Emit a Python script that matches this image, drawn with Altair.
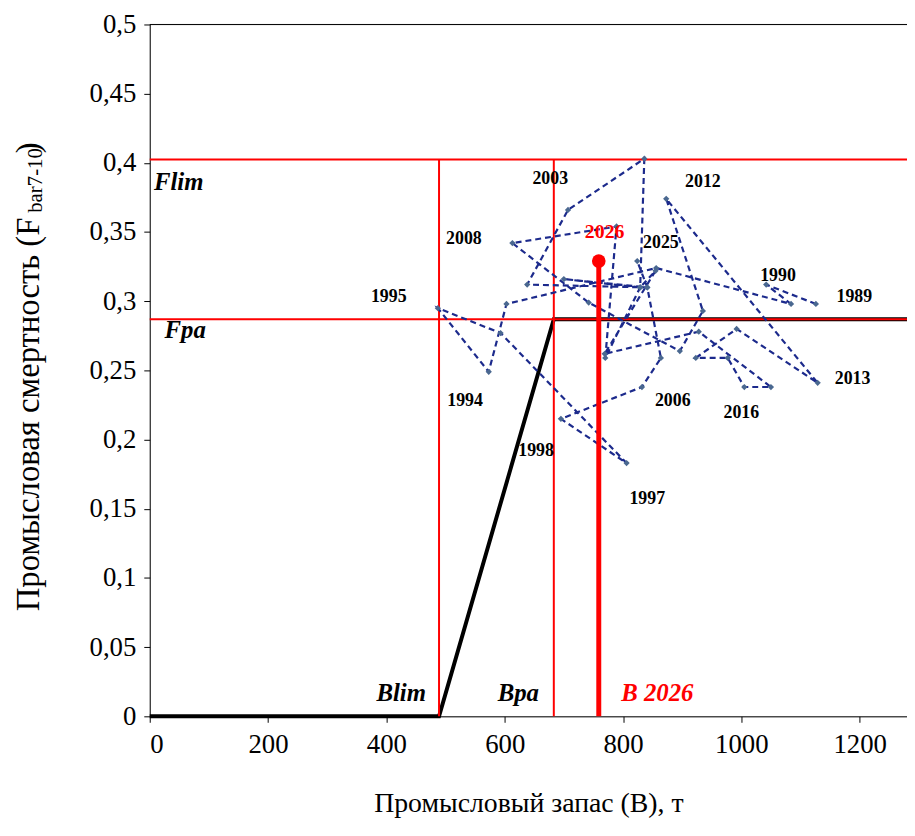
import altair as alt
import pandas as pd

# ---- data ----
years = list(range(1989, 2026))
biomass = [1126, 1042, 1084, 856, 603, 573, 487, 593, 806, 695, 832, 864, 841, 638, 707,
           836, 829, 770, 789, 613, 742, 896, 935, 873, 1129, 992, 923, 977, 1005, 1050,
           928, 769, 855, 829, 700, 841, 824]
fmort = [0.298, 0.312, 0.298, 0.324, 0.298, 0.249, 0.295, 0.277, 0.183, 0.215, 0.238,
         0.259, 0.310, 0.312, 0.366, 0.403, 0.310, 0.259, 0.354, 0.342, 0.299, 0.264,
         0.293, 0.374, 0.241, 0.280, 0.259, 0.259, 0.238, 0.238, 0.278, 0.262, 0.322,
         0.310, 0.316, 0.310, 0.329]

year_labels = ["1989", "1990", "2012", "2003", "2008", "2025", "1995", "1994", "1998",
               "1997", "2006", "2016", "2013"]
year_label_x = [1191, 1062, 935, 677, 531, 864, 404, 533, 653, 841, 884, 1000, 1188]
year_label_y = [0.303, 0.318, 0.386, 0.388, 0.345, 0.342, 0.303, 0.228, 0.192, 0.157,
                0.228, 0.219, 0.244]

Blim, Bpa, Flim, Fpa = 489, 683, 0.4025, 0.287
B2026, F2026 = 759, 0.329
XMAX = 1280

hcr_x = [0, Blim, Bpa, XMAX]
hcr_y = [0, 0, Fpa, Fpa]

ref_names = ["Flim", "Fpa", "Blim", "Bpa"]
ref_x = [49, 60, 425, 623]
ref_y = [0.386, 0.279, 0.017, 0.017]

x_ticks = [0, 200, 400, 600, 800, 1000, 1200]
y_ticks = [0, 0.05, 0.1, 0.15, 0.2, 0.25, 0.3, 0.35, 0.4, 0.45, 0.5]

FONT = "Liberation Serif"
RED = "#FF0000"

xs = alt.Scale(domain=[0, XMAX], nice=False, zero=False)
ys = alt.Scale(domain=[0, 0.5], nice=False, zero=False)

traj = pd.DataFrame({"year": years, "B": biomass, "F": fmort})
hcr = pd.DataFrame({"B": hcr_x, "F": hcr_y, "o": list(range(len(hcr_x)))})
hlines = pd.DataFrame({"x": [0, 0], "x2": [XMAX, XMAX], "y": [Flim, Fpa]})
vlines = pd.DataFrame({"x": [Blim, Bpa], "y": [0, 0], "y2": [Flim, Flim]})
cur = pd.DataFrame({"B": [B2026], "F": [F2026], "F0": [0]})
ylab = pd.DataFrame({"t": year_labels, "x": year_label_x, "y": year_label_y})
rlab = pd.DataFrame({"t": ref_names, "x": ref_x, "y": ref_y})
curlab1 = pd.DataFrame({"t": ["2026"], "x": [769], "y": [0.350]})
curlab2 = pd.DataFrame({"t": ["B 2026"], "x": [858], "y": [0.017]})
top = pd.DataFrame({"x": [0], "x2": [XMAX], "y": [0.5]})

base_x = alt.X("B:Q", scale=xs, axis=alt.Axis(
    values=x_ticks, format="d", title="Промысловый запас (B), т", grid=False,
    labelFont=FONT, labelFontSize=27, labelColor="black", labelPadding=9,
    titleFont=FONT, titleFontSize=28, titleFontWeight="normal", titleColor="black",
    titlePadding=33, tickColor="black", domainColor="black", tickSize=6))
base_y = alt.Y("F:Q", scale=ys, axis=alt.Axis(
    values=y_ticks, title=None, grid=False,
    labelExpr="replace(toString(datum.value), '.', ',')",
    labelFont=FONT, labelFontSize=27, labelColor="black", labelPadding=8,
    tickColor="black", domainColor="black", tickSize=6))

hcr_line = alt.Chart(hcr).mark_line(color="black", strokeWidth=4).encode(
    x=base_x, y=base_y, order="o:Q")

h_rules = alt.Chart(hlines).mark_rule(color=RED, strokeWidth=2).encode(
    x=alt.X("x:Q", scale=xs), x2="x2:Q", y=alt.Y("y:Q", scale=ys))
v_rules = alt.Chart(vlines).mark_rule(color=RED, strokeWidth=2).encode(
    x=alt.X("x:Q", scale=xs), y=alt.Y("y:Q", scale=ys), y2="y2:Q")
top_rule = alt.Chart(top).mark_rule(color="black", strokeWidth=1).encode(
    x=alt.X("x:Q", scale=xs), x2="x2:Q", y=alt.Y("y:Q", scale=ys))

traj_line = alt.Chart(traj).mark_line(
    color="#1C2A8C", strokeWidth=2.2, strokeDash=[6, 4]).encode(
    x=alt.X("B:Q", scale=xs), y=alt.Y("F:Q", scale=ys), order="year:Q")
traj_pts = alt.Chart(traj).mark_point(
    shape="diamond", filled=True, size=40, color="#4A6890", opacity=1).encode(
    x=alt.X("B:Q", scale=xs), y=alt.Y("F:Q", scale=ys))

cur_rule = alt.Chart(cur).mark_rule(color=RED, strokeWidth=5).encode(
    x=alt.X("B:Q", scale=xs), y=alt.Y("F0:Q", scale=ys), y2="F:Q")
cur_pt = alt.Chart(cur).mark_circle(color=RED, size=190, opacity=1).encode(
    x=alt.X("B:Q", scale=xs), y=alt.Y("F:Q", scale=ys))

year_text = alt.Chart(ylab).mark_text(
    font=FONT, fontSize=18, fontWeight="bold", color="black").encode(
    x=alt.X("x:Q", scale=xs), y=alt.Y("y:Q", scale=ys), text="t:N")
ref_text = alt.Chart(rlab).mark_text(
    font=FONT, fontSize=25, fontWeight="bold", fontStyle="italic", color="black").encode(
    x=alt.X("x:Q", scale=xs), y=alt.Y("y:Q", scale=ys), text="t:N")
cur_text1 = alt.Chart(curlab1).mark_text(
    font=FONT, fontSize=20, fontWeight="bold", color=RED).encode(
    x=alt.X("x:Q", scale=xs), y=alt.Y("y:Q", scale=ys), text="t:N")
cur_text2 = alt.Chart(curlab2).mark_text(
    font=FONT, fontSize=25, fontWeight="bold", fontStyle="italic", color=RED).encode(
    x=alt.X("x:Q", scale=xs), y=alt.Y("y:Q", scale=ys), text="t:N")

# y-axis title with subscript
ytitle_df = pd.DataFrame({"t": ["Промысловая смертность (F", "bar7-10", ")"],
                          "px": [-122, -115, -122],
                          "py": [592, 190, 130],
                          "fs": [33, 21, 33]})
ytitle = alt.Chart(ytitle_df).mark_text(
    font=FONT, angle=270, align="left", baseline="middle", color="black").encode(
    x=alt.X("px:Q", scale=None), y=alt.Y("py:Q", scale=None), text="t:N",
    size=alt.Size("fs:Q", scale=None, legend=None))

chart = alt.layer(
    hcr_line, h_rules, v_rules, top_rule, traj_line, traj_pts,
    cur_rule, cur_pt, year_text, ref_text, cur_text1, cur_text2, ytitle
).properties(
    width=764, height=698,
    autosize=alt.AutoSizeParams(type="none"),
    padding={"left": 143, "top": 13, "right": 0, "bottom": 105},
).configure_view(stroke=None).configure(font=FONT).configure_axis(
    labelFont=FONT, titleFont=FONT)

chart.save("out.html", embed_options={"renderer": "svg", "actions": False})
